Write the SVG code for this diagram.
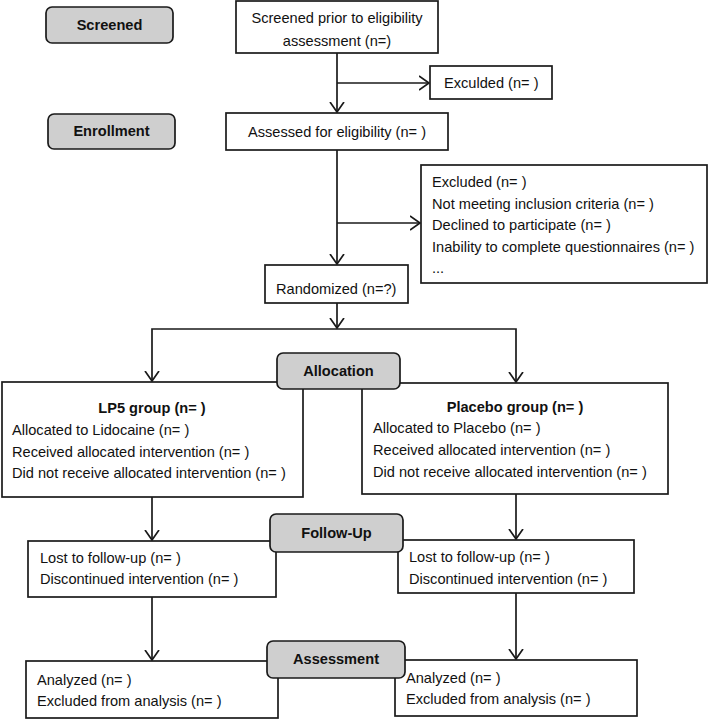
<svg xmlns="http://www.w3.org/2000/svg" width="708" height="720" viewBox="0 0 708 720">
<style>
.box{fill:#fff;stroke:#1a1a1a;stroke-width:1.7}
.lbl{fill:#cfcfcf;stroke:#1a1a1a;stroke-width:1.7}
text{font-family:"Liberation Sans",Arial,sans-serif;font-size:14.6px;fill:#111}
.b{font-weight:bold}
.c{text-anchor:middle}
.con{fill:none;stroke:#1a1a1a;stroke-width:1.7}
</style>
<defs>
<marker id="arr" markerUnits="userSpaceOnUse" markerWidth="20" markerHeight="20" refX="10" refY="10" orient="auto">
<path d="M0,3 L10,10 L0,17" fill="none" stroke="#1a1a1a" stroke-width="1.7"/>
</marker>
</defs>
<rect width="708" height="720" fill="#fff"/>
<g id="connectors">
<path class="con" d="M337,53 V112" marker-end="url(#arr)"/>
<path class="con" d="M337,83 H429" marker-end="url(#arr)"/>
<path class="con" d="M337,150 V264" marker-end="url(#arr)"/>
<path class="con" d="M337,223 H420" marker-end="url(#arr)"/>
<path class="con" d="M337,303 V328" marker-end="url(#arr)"/>
<path class="con" d="M337,329 H152 V381" marker-end="url(#arr)"/>
<path class="con" d="M337,329 H516 V382" marker-end="url(#arr)"/>
<path class="con" d="M152,497 V540" marker-end="url(#arr)"/>
<path class="con" d="M516,494 V539" marker-end="url(#arr)"/>
<path class="con" d="M152,597 V660" marker-end="url(#arr)"/>
<path class="con" d="M516,593 V659" marker-end="url(#arr)"/>
</g>
<g id="screened-box">
<rect class="box" x="236" y="1" width="202" height="52"/>
<text class="c" x="337" y="23">Screened prior to eligibility</text>
<text class="c" x="337" y="46">assessment (n=)</text>
</g>
<g id="excluded1">
<rect class="box" x="430" y="66" width="122" height="33"/>
<text x="444" y="88">Exculded (n= )</text>
</g>
<g id="assessed">
<rect class="box" x="226" y="113" width="222" height="37"/>
<text x="248" y="137">Assessed for eligibility (n= )</text>
</g>
<g id="excluded2">
<rect class="box" x="421" y="165" width="286" height="118"/>
<text x="432" y="187">Excluded (n= )</text>
<text x="432" y="209">Not meeting inclusion criteria (n= )</text>
<text x="432" y="230">Declined to participate (n= )</text>
<text x="432" y="252">Inability to complete questionnaires (n= )</text>
<text x="432" y="273">...</text>
</g>
<g id="randomized">
<rect class="box" x="265" y="265" width="143" height="38"/>
<text x="276" y="294">Randomized (n=?)</text>
</g>
<g id="lp5">
<rect class="box" x="2" y="382" width="301" height="115"/>
<text class="c b" x="152" y="413">LP5 group (n= )</text>
<text x="12" y="435">Allocated to Lidocaine (n= )</text>
<text x="12" y="457">Received allocated intervention (n= )</text>
<text x="12" y="478">Did not receive allocated intervention (n= )</text>
</g>
<g id="placebo">
<rect class="box" x="362" y="383" width="306" height="111"/>
<text class="c b" x="515" y="412">Placebo group (n= )</text>
<text x="373" y="433">Allocated to Placebo (n= )</text>
<text x="373" y="455">Received allocated intervention (n= )</text>
<text x="373" y="477">Did not receive allocated intervention (n= )</text>
</g>
<g id="followup-left">
<rect class="box" x="28" y="541" width="248" height="56"/>
<text x="40" y="563">Lost to follow-up (n= )</text>
<text x="40" y="584">Discontinued intervention (n= )</text>
</g>
<g id="followup-right">
<rect class="box" x="398" y="540" width="236" height="53"/>
<text x="409" y="562">Lost to follow-up (n= )</text>
<text x="409" y="584">Discontinued intervention (n= )</text>
</g>
<g id="assess-left">
<rect class="box" x="26" y="661" width="252" height="57"/>
<text x="37" y="685">Analyzed (n= )</text>
<text x="37" y="706">Excluded from analysis (n= )</text>
</g>
<g id="assess-right">
<rect class="box" x="395" y="660" width="242" height="56"/>
<text x="406" y="683">Analyzed (n= )</text>
<text x="406" y="704">Excluded from analysis (n= )</text>
</g>
<g id="label-screened">
<rect class="lbl" x="46" y="7" width="127" height="36" rx="6"/>
<text class="c b" x="109.5" y="30">Screened</text>
</g>
<g id="label-enrollment">
<rect class="lbl" x="48" y="114" width="127" height="35" rx="6"/>
<text class="c b" x="111.5" y="136">Enrollment</text>
</g>
<g id="label-allocation">
<rect class="lbl" x="277" y="353" width="123" height="36" rx="6"/>
<text class="c b" x="338.5" y="376">Allocation</text>
</g>
<g id="label-followup">
<rect class="lbl" x="270" y="514" width="133" height="38" rx="6"/>
<text class="c b" x="336.5" y="538">Follow-Up</text>
</g>
<g id="label-assessment">
<rect class="lbl" x="267" y="641" width="138" height="37" rx="6"/>
<text class="c b" x="336" y="664">Assessment</text>
</g>
</svg>
